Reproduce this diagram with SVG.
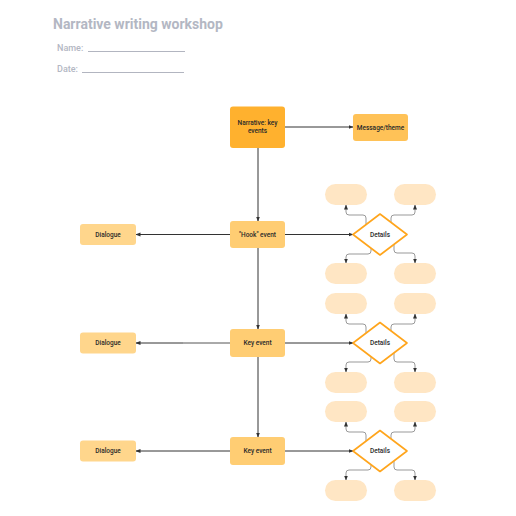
<svg xmlns="http://www.w3.org/2000/svg" width="516" height="516" viewBox="0 0 516 516">
<defs>
<marker id="ah" viewBox="0 0 10 10" refX="9" refY="5" markerWidth="5" markerHeight="5" orient="auto" markerUnits="userSpaceOnUse">
<path d="M0,1 L10,5 L0,9 z" fill="#333"/>
</marker>
<style>
.t{font-family:Roboto,"Liberation Sans",sans-serif;fill:#2a2a2a;font-size:6.5px;font-weight:500;text-anchor:middle;dominant-baseline:central}
.hd{font-family:Roboto,"Liberation Sans",sans-serif;fill:#b3b7c3}
.ln{stroke:#333;stroke-width:1;fill:none;marker-end:url(#ah)}
.sub{stroke:#999;stroke-width:1;fill:none;marker-end:url(#ah)}
.pill{fill:#ffe6c4}
.ev{fill:#ffcd73}
.dl{fill:#ffd68c}
.dm{fill:#fff;stroke:#ffa51c;stroke-width:1.6;stroke-linejoin:round}
</style>
</defs>
<rect width="516" height="516" fill="#fff"/>
<g id="header">
<text class="hd" x="53" y="29" font-size="14" font-weight="bold">Narrative writing workshop</text>
<text class="hd" x="57" y="51" font-size="9" font-weight="500">Name:</text>
<line x1="88" y1="51.5" x2="185" y2="51.5" stroke="#a9adb9" stroke-width="0.9"/>
<text class="hd" x="57" y="72" font-size="9" font-weight="500">Date:</text>
<line x1="82" y1="72.5" x2="184" y2="72.5" stroke="#a9adb9" stroke-width="0.9"/>
</g>
<g id="connectors">
<line class="ln" x1="285" y1="127" x2="353" y2="127"/>
<line class="ln" x1="258" y1="148" x2="258" y2="221"/>
<line class="ln" x1="258" y1="248" x2="258" y2="329"/>
<line class="ln" x1="258" y1="357" x2="258" y2="437"/>
<line class="ln" x1="285" y1="234.5" x2="353" y2="234.5"/>
<line class="ln" x1="285" y1="343" x2="353" y2="343"/>
<line class="ln" x1="285" y1="451" x2="353" y2="451"/>
<line class="ln" x1="230" y1="234.5" x2="136" y2="234.5"/>
<line x1="230" y1="343" x2="183" y2="343" stroke="#555" stroke-width="1"/>
<line class="ln" x1="183" y1="343" x2="136" y2="343" stroke="#ddd" stroke-width="1.8"/>
<line class="ln" x1="230" y1="451" x2="136" y2="451" stroke="#999"/>
<g id="sub1">
<path class="sub" d="M366,224.6 V218 Q366,215 363,215 H349 Q346,215 346,212 V205"/>
<path class="sub" d="M391,222.4 V218 Q391,215 394,215 H412 Q415,215 415,212 V205"/>
<path class="sub" d="M371,248.2 V251 Q371,254 368,254 H349 Q346,254 346,257 V263"/>
<path class="sub" d="M394,244.4 V250 Q394,253 397,253 H412 Q415,253 415,256 V263"/>
</g>
<g id="sub2">
<path class="sub" d="M366,333.1 V327 Q366,324 363,324 H349 Q346,324 346,321 V314"/>
<path class="sub" d="M391,330.9 V327 Q391,324 394,324 H412 Q415,324 415,321 V314"/>
<path class="sub" d="M371,356.7 V359 Q371,362 368,362 H349 Q346,362 346,365 V372"/>
<path class="sub" d="M394,352.9 V359 Q394,362 397,362 H412 Q415,362 415,365 V372"/>
</g>
<g id="sub3">
<path class="sub" d="M366,441.1 V435 Q366,432 363,432 H349 Q346,432 346,429 V422"/>
<path class="sub" d="M391,438.9 V435 Q391,432 394,432 H412 Q415,432 415,429 V422"/>
<path class="sub" d="M371,464.7 V467 Q371,470 368,470 H349 Q346,470 346,473 V480"/>
<path class="sub" d="M394,460.9 V467 Q394,470 397,470 H412 Q415,470 415,473 V480"/>
</g>
</g>
<g id="narrative">
<rect x="230" y="106.5" width="55" height="41.5" rx="3" fill="#ffb12e"/>
<text class="t" x="257.5" y="123.3">Narrative: key</text>
<text class="t" x="257.5" y="131.3">events</text>
</g>
<g id="message">
<rect x="353" y="114" width="55" height="27" rx="3" fill="#ffc257"/>
<text class="t" x="380.5" y="127.5">Message/theme</text>
</g>
<g id="hook">
<rect class="ev" x="230" y="221" width="55" height="27" rx="3"/>
<text class="t" x="257.5" y="234.5">"Hook" event</text>
</g>
<g id="key1">
<rect class="ev" x="230" y="329" width="55" height="28" rx="3"/>
<text class="t" x="257.5" y="343">Key event</text>
</g>
<g id="key2">
<rect class="ev" x="230" y="437" width="55" height="28" rx="3"/>
<text class="t" x="257.5" y="451">Key event</text>
</g>
<g id="dialogue1">
<rect class="dl" x="80" y="224" width="56" height="21" rx="3"/>
<text class="t" x="108" y="234.5">Dialogue</text>
</g>
<g id="dialogue2">
<rect class="dl" x="80" y="332.5" width="56" height="21" rx="3"/>
<text class="t" x="108" y="343">Dialogue</text>
</g>
<g id="dialogue3">
<rect class="dl" x="80" y="440.5" width="56" height="21" rx="3"/>
<text class="t" x="108" y="451">Dialogue</text>
</g>
<g id="details1">
<path class="dm" d="M380,214 L407,234.5 L380,255 L353,234.5 Z"/>
<text class="t" x="380" y="234.5">Details</text>
</g>
<g id="details2">
<path class="dm" d="M380,322.5 L407,343 L380,363.5 L353,343 Z"/>
<text class="t" x="380" y="343">Details</text>
</g>
<g id="details3">
<path class="dm" d="M380,430.5 L407,451 L380,471.5 L353,451 Z"/>
<text class="t" x="380" y="451">Details</text>
</g>
<g id="pills1">
<rect class="pill" x="325" y="184" width="42" height="21" rx="10.5"/>
<rect class="pill" x="394" y="184" width="42" height="21" rx="10.5"/>
<rect class="pill" x="325" y="263" width="42" height="21" rx="10.5"/>
<rect class="pill" x="394" y="263" width="42" height="21" rx="10.5"/>
</g>
<g id="pills2">
<rect class="pill" x="325" y="293" width="42" height="21" rx="10.5"/>
<rect class="pill" x="394" y="293" width="42" height="21" rx="10.5"/>
<rect class="pill" x="325" y="372" width="42" height="21" rx="10.5"/>
<rect class="pill" x="394" y="372" width="42" height="21" rx="10.5"/>
</g>
<g id="pills3">
<rect class="pill" x="325" y="401" width="42" height="21" rx="10.5"/>
<rect class="pill" x="394" y="401" width="42" height="21" rx="10.5"/>
<rect class="pill" x="325" y="480" width="42" height="21" rx="10.5"/>
<rect class="pill" x="394" y="480" width="42" height="21" rx="10.5"/>
</g>
</svg>
